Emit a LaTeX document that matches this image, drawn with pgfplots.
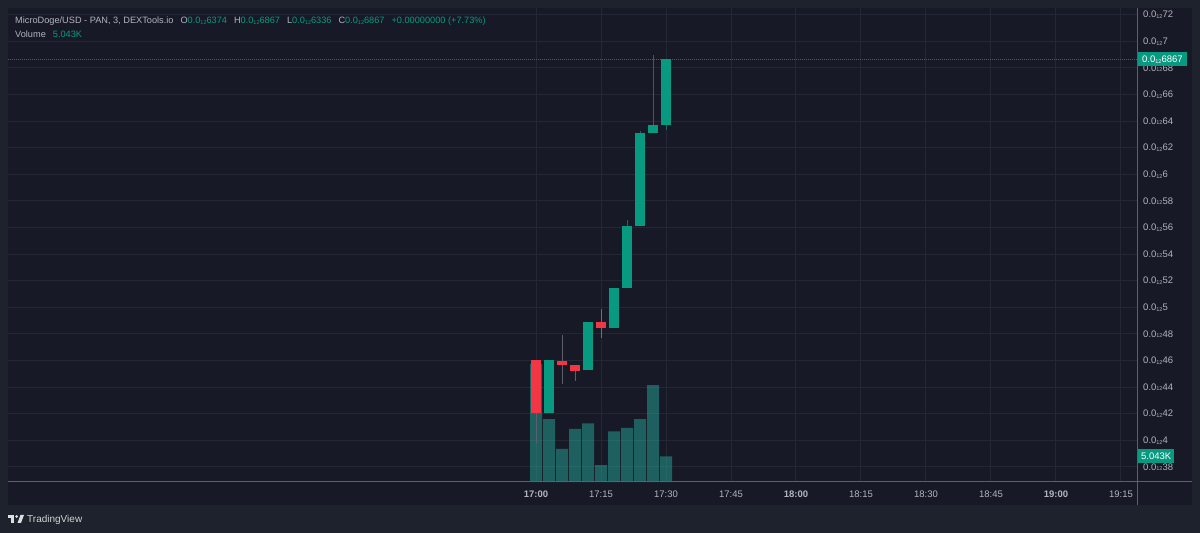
\documentclass[border=0pt]{standalone}
\usepackage{pgfplots}
\pgfplotsset{compat=1.18}
\usepackage{pgfplotstable}
\usepackage{fontspec}
\setmainfont{Liberation Sans}
\pgfdeclarelayer{background}
\pgfsetlayers{background,main}
\definecolor{outerbg}{HTML}{1E222D}
\definecolor{innerbg}{HTML}{171A26}
\definecolor{gridc}{HTML}{242834}
\definecolor{axisc}{HTML}{5D606B}
\definecolor{txt}{HTML}{B2B5BE}
\definecolor{tvgreen}{HTML}{089981}
\definecolor{tvred}{HTML}{F23645}
\definecolor{volc}{HTML}{26A69A}
\definecolor{wickg}{HTML}{1B6B5E}
\definecolor{wickgrey}{HTML}{5D606B}
\newcommand{\sub}{\raisebox{-0.6pt}{\fontsize{5.5}{6}\selectfont 12}}
\newcommand{\pz}[1]{0.0\sub#1}

\pgfplotstableread{
t o h l c
3 0.4206 0.4605 0.4206 0.4605
12 0.4527 0.4888 0.4527 0.4888
18 0.4847 0.5148 0.4847 0.5148
21 0.5148 0.5657 0.5148 0.5614
24 0.5614 0.6326 0.5614 0.6311
27 0.6311 0.6895 0.6311 0.6374
30 0.6374 0.6867 0.6336 0.6867
}\greenc
\pgfplotstableread{
t o h l c
0 0.4605 0.4605 0.3980 0.4206
6 0.4600 0.4792 0.4424 0.4565
9 0.4565 0.4565 0.4450 0.4524
}\redc
\pgfplotstableread{
t o h l c
15 0.4890 0.4986 0.4772 0.4847
}\redd
% volume in thousands
\pgfplotstableread{
t v
0 23.1
3 12.3
6 6.5
9 10.4
12 11.5
15 3.3
18 9.9
21 10.6
24 12.3
27 19.0
30 5.043
}\vol

\pgfplotsset{
  wick/.style={draw=none, mark=none, forget plot, error bars/.cd, y dir=both, y explicit, error mark=none,
    error bar style={line width=1pt, draw=#1}},
  body/.style={draw=none, mark=none, forget plot, error bars/.cd, y dir=both, y explicit, error mark=none,
    error bar style={line width=10pt, draw=#1}},
}

\begin{document}
\begin{tikzpicture}[x=1pt,y=1pt]
\begin{axis}[scale only axis, width=1129pt, height=474pt,
  xmin=-121.85, xmax=138.7, ymin=0.36872, ymax=0.72511,
  axis line style={draw=none}, tick style={draw=none},
  grid=major, major grid style={draw=gridc, line width=1pt},
  xtick={0,15,30,45,60,75,90,105,120,135},
  xticklabels={\textbf{17:00},17:15,17:30,17:45,\textbf{18:00},18:15,18:30,18:45,\textbf{19:00},19:15},
  ytick={0.38,0.40,0.42,0.44,0.46,0.48,0.50,0.52,0.54,0.56,0.58,0.60,0.62,0.64,0.66,0.68,0.70,0.72},
  yticklabels={\pz{38},\pz{4},\pz{42},\pz{44},\pz{46},\pz{48},\pz{5},\pz{52},\pz{54},\pz{56},\pz{58},\pz{6},\pz{62},\pz{64},\pz{66},\pz{68},\pz{7},\pz{72}},
  yticklabel pos=right,
  ticklabel style={font=\fontsize{9.5}{11}\selectfont, text=txt},
  yticklabel style={anchor=west, inner sep=0pt, xshift=6pt},
  xticklabel style={anchor=base, inner sep=0pt, yshift=-15pt},
]
\coordinate (O) at (rel axis cs:0,0);
% volume bars (scaled onto the lower part of the price axis: 92.9K spans the full height)
\addplot[ybar, bar width=12pt, fill=volc, fill opacity=0.5, draw=none, forget plot]
  table[x=t, y expr={0.36872+\thisrow{v}*0.0038363}]{\vol};
% last price line
\addplot[tvgreen!75!innerbg, line width=1pt, dash pattern=on 1pt off 1pt, forget plot]
  coordinates {(-121.85,0.6867) (138.7,0.6867)};
% wicks
\addplot[wick=wickg] table[x=t, y expr={(\thisrow{h}+\thisrow{l})/2}, y error expr={(\thisrow{h}-\thisrow{l})/2}]{\greenc};
\addplot[wick=wickgrey] table[x=t, y expr={(\thisrow{h}+\thisrow{l})/2}, y error expr={(\thisrow{h}-\thisrow{l})/2}]{\redc};
\addplot[wick=tvred] table[x=t, y expr={(\thisrow{h}+\thisrow{l})/2}, y error expr={(\thisrow{h}-\thisrow{l})/2}]{\redd};
% bodies
\addplot[body=tvgreen] table[x=t, y expr={(\thisrow{o}+\thisrow{c})/2}, y error expr={abs(\thisrow{c}-\thisrow{o})/2}]{\greenc};
\addplot[body=tvred] table[x=t, y expr={(\thisrow{o}+\thisrow{c})/2}, y error expr={abs(\thisrow{c}-\thisrow{o})/2}]{\redc};
\addplot[body=tvred] table[x=t, y expr={(\thisrow{o}+\thisrow{c})/2}, y error expr={abs(\thisrow{c}-\thisrow{o})/2}]{\redd};
\end{axis}

\begin{scope}[shift={(O)}, xshift=-8pt, yshift=-51pt]
\begin{pgfonlayer}{background}
\fill[outerbg] (0,0) rectangle (1200,533);
\fill[innerbg] (8,28) rectangle (1192,525);
\end{pgfonlayer}

% axis lines
\draw[axisc, line width=1pt] (8,51) -- (1192,51);
\draw[axisc, line width=1pt] (1137.5,28) -- (1137.5,525);

% price / volume boxes
\node[fill=tvgreen, text=white, font=\fontsize{9.5}{11}\selectfont, inner xsep=4pt, inner ysep=2pt, anchor=west, minimum height=14pt] at (1138,473.5) {\pz{6867}};
\node[fill=tvgreen, text=white, font=\fontsize{9.5}{11}\selectfont, inner xsep=3pt, inner ysep=2pt, anchor=west, minimum height=14pt] at (1138,77) {5.043K};

% legend
\node[anchor=base west, inner sep=0pt, font=\fontsize{9.2}{11}\selectfont, text=txt] at (15,509)
  {MicroDoge/USD - PAN, 3, DEXTools.io\hspace{7pt}O\textcolor{tvgreen}{\pz{6374}}\hspace{7pt}H\textcolor{tvgreen}{\pz{6867}}\hspace{7pt}L\textcolor{tvgreen}{\pz{6336}}\hspace{7pt}C\textcolor{tvgreen}{\pz{6867}}\hspace{7pt}\textcolor{tvgreen}{+0.00000000 (+7.73\%)}};
\node[anchor=base west, inner sep=0pt, font=\fontsize{9.2}{11}\selectfont, text=txt] at (15,495)
  {Volume\hspace{7pt}\textcolor{tvgreen}{5.043K}};

% TradingView logo
\fill[white!85!outerbg] (8,18) rectangle (14.5,15);
\fill[white!85!outerbg] (11.5,15) rectangle (14.5,10);
\fill[white!85!outerbg] (16.6,16.4) circle (1.5);
\fill[white!85!outerbg] (17.5,10) -- (20.5,18) -- (24,18) -- (21,10) -- cycle;
\node[anchor=base west, inner sep=0pt, font=\fontsize{10}{12}\selectfont, text=white!80!outerbg] at (27,10) {TradingView};

\pgfresetboundingbox
\path[use as bounding box] (0,0) rectangle (1200,533);
\end{scope}
\end{tikzpicture}
\end{document}
